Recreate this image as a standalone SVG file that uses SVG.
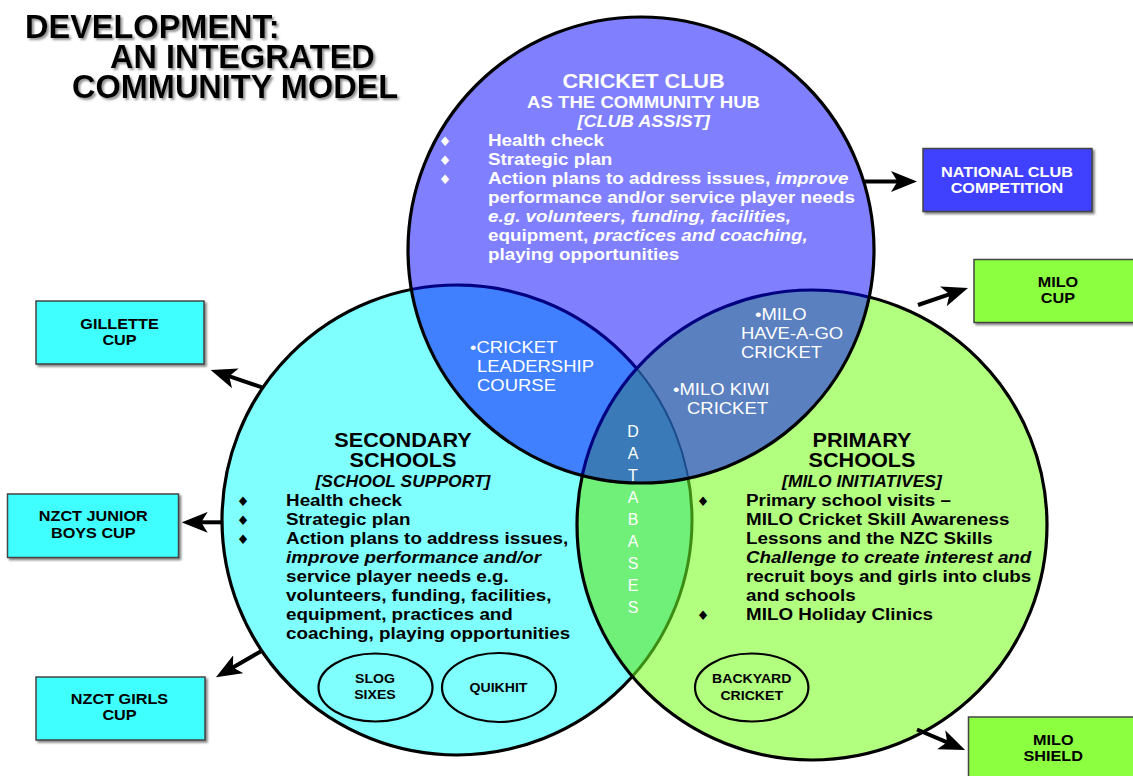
<svg xmlns="http://www.w3.org/2000/svg" width="1133" height="776" viewBox="0 0 1133 776">
<style>
.t{font-family:"Liberation Sans",Arial,sans-serif}
.w{fill:#fff}
.k{fill:#000}
.b{font-weight:bold}
.i{font-style:italic}
.bul{font-family:"DejaVu Sans",sans-serif;font-size:13px;text-anchor:middle}
.box{stroke:#444;stroke-width:1.5}
.ell{fill:none;stroke:#000;stroke-width:2.2}
.arr{stroke:#000;stroke-width:4;fill:none;marker-end:url(#ah)}
</style>
<defs>
<filter id="tsh" x="-5%" y="-20%" width="115%" height="150%"><feDropShadow dx="2" dy="2" stdDeviation="1" flood-color="#777" flood-opacity="0.8"/></filter>
<filter id="bsh" x="-5%" y="-10%" width="115%" height="130%"><feDropShadow dx="2" dy="2" stdDeviation="0.8" flood-color="#666" flood-opacity="0.8"/></filter>
<marker id="ah" markerUnits="userSpaceOnUse" markerWidth="26" markerHeight="20.8" viewBox="0 0 20 16" refX="10" refY="8" orient="auto"><path d="M0,0 L20,8 L0,16 L5,8 Z" fill="#000"/></marker>
<clipPath id="cT"><circle cx="641" cy="250" r="233"/></clipPath>
<clipPath id="cL"><circle cx="457" cy="520" r="235"/></clipPath>
<clipPath id="cR"><circle cx="812" cy="525" r="235"/></clipPath>
<mask id="mNotTR" maskUnits="userSpaceOnUse" x="0" y="0" width="1133" height="776"><rect width="1133" height="776" fill="#fff"/><circle cx="641" cy="250" r="233" fill="#000"/><circle cx="812" cy="525" r="235" fill="#000"/></mask>
<mask id="mTnR" maskUnits="userSpaceOnUse" x="0" y="0" width="1133" height="776"><rect width="1133" height="776" fill="#000"/><circle cx="641" cy="250" r="233" fill="#fff"/><circle cx="812" cy="525" r="235" fill="#000"/></mask>
<mask id="mTR" maskUnits="userSpaceOnUse" x="0" y="0" width="1133" height="776"><rect width="1133" height="776" fill="#000"/><circle cx="641" cy="250" r="233" fill="#fff" clip-path="url(#cR)"/></mask>
<mask id="mRnT" maskUnits="userSpaceOnUse" x="0" y="0" width="1133" height="776"><rect width="1133" height="776" fill="#000"/><circle cx="812" cy="525" r="235" fill="#fff"/><circle cx="641" cy="250" r="233" fill="#000"/></mask>
<mask id="mNotT" maskUnits="userSpaceOnUse" x="0" y="0" width="1133" height="776"><rect width="1133" height="776" fill="#fff"/><circle cx="641" cy="250" r="233" fill="#000"/></mask>
</defs>
<rect width="1133" height="776" fill="#fff"/>

<g id="title" class="t b" font-size="32.5" filter="url(#tsh)">
<text x="25" y="38">DEVELOPMENT:</text>
<text x="110" y="68">AN INTEGRATED</text>
<text x="72" y="98">COMMUNITY MODEL</text>
</g>

<g id="venn">
<circle cx="641" cy="250" r="233" fill="#8080FF"/>
<circle cx="457" cy="520" r="235" fill="#80FFFF"/>
<circle cx="812" cy="525" r="235" fill="#B2FF80"/>
<g clip-path="url(#cT)"><circle cx="457" cy="520" r="235" fill="#4080FF"/></g>
<g clip-path="url(#cT)"><circle cx="812" cy="525" r="235" fill="#5A80C0"/></g>
<g clip-path="url(#cL)"><circle cx="812" cy="525" r="235" fill="#70F078"/></g>
<g clip-path="url(#cT)"><g clip-path="url(#cL)"><circle cx="812" cy="525" r="235" fill="#3A7AB8"/></g></g>
<circle cx="457" cy="520" r="235" fill="none" stroke="#000" stroke-width="3.2" mask="url(#mNotTR)"/>
<circle cx="457" cy="520" r="235" fill="none" stroke="#000080" stroke-width="3.2" mask="url(#mTnR)"/>
<circle cx="457" cy="520" r="235" fill="none" stroke="#1D4B8A" stroke-width="2" mask="url(#mTR)"/>
<circle cx="457" cy="520" r="235" fill="none" stroke="#3C8C14" stroke-width="3" mask="url(#mRnT)"/>
<circle cx="812" cy="525" r="235" fill="none" stroke="#000" stroke-width="3.2" mask="url(#mNotT)"/>
<g clip-path="url(#cT)"><circle cx="812" cy="525" r="235" fill="none" stroke="#000080" stroke-width="3.2"/></g>
<circle cx="641" cy="250" r="233" fill="none" stroke="#000" stroke-width="3.2"/>
</g>

<g id="connectors">
<line class="arr" x1="863" y1="181.5" x2="904" y2="181.5"/>
<line class="arr" x1="918" y1="305" x2="955.7" y2="292.2"/>
<line class="arr" x1="262" y1="387.3" x2="223" y2="374.2"/>
<line class="arr" x1="221" y1="522.3" x2="194.7" y2="522.3"/>
<line class="arr" x1="261" y1="651.2" x2="227.2" y2="670.8"/>
<line class="arr" x1="917" y1="729.5" x2="953.1" y2="744.9"/>
</g>

<g id="club-hub" class="t w" transform="scale(1.12 1)">
<text x="574.6" y="88" text-anchor="middle" class="b" font-size="19.3">CRICKET CLUB</text>
<text x="574.6" y="108" text-anchor="middle" class="b" font-size="16.6">AS THE COMMUNITY HUB</text>
<text x="574.6" y="127" text-anchor="middle" font-size="16.2" class="b i">[CLUB ASSIST]</text>
<text class="bul" x="397.3" y="146">♦</text>
<text class="bul" x="397.3" y="165">♦</text>
<text class="bul" x="397.3" y="184">♦</text>
<g class="b" font-size="16.8">
<text x="435.7" y="146">Health check</text>
<text x="435.7" y="165">Strategic plan</text>
<text x="435.7" y="184">Action plans to address issues, <tspan class="i">improve</tspan></text>
<text x="435.7" y="203">performance and/or service player needs</text>
<text x="435.7" y="222" class="i">e.g. volunteers, funding, facilities,</text>
<text x="435.7" y="241">equipment, <tspan class="i">practices and coaching,</tspan></text>
<text x="435.7" y="260">playing opportunities</text>
</g>
</g>

<g id="secondary-schools" class="t k" transform="scale(1.12 1)">
<text x="359.8" y="447" text-anchor="middle" class="b" font-size="19.3">SECONDARY</text>
<text x="359.8" y="467" text-anchor="middle" class="b" font-size="19.3">SCHOOLS</text>
<text x="359.8" y="487" text-anchor="middle" class="b i" font-size="15.6">[SCHOOL SUPPORT]</text>
<text class="bul" x="217" y="506">♦</text>
<text class="bul" x="217" y="525">♦</text>
<text class="bul" x="217" y="544">♦</text>
<g class="b" font-size="16.8">
<text x="255.4" y="506">Health check</text>
<text x="255.4" y="525">Strategic plan</text>
<text x="255.4" y="544">Action plans to address issues,</text>
<text x="255.4" y="563" class="i">improve performance and/or</text>
<text x="255.4" y="582">service player needs e.g.</text>
<text x="255.4" y="601">volunteers, funding, facilities,</text>
<text x="255.4" y="620">equipment, practices and</text>
<text x="255.4" y="639">coaching, playing opportunities</text>
</g>
</g>

<g id="primary-schools" class="t k" transform="scale(1.12 1)">
<text x="769.6" y="447" text-anchor="middle" class="b" font-size="19.3">PRIMARY</text>
<text x="769.6" y="467" text-anchor="middle" class="b" font-size="19.3">SCHOOLS</text>
<text x="769.6" y="487" text-anchor="middle" class="b i" font-size="15.6">[MILO INITIATIVES]</text>
<text class="bul" x="627.7" y="506">♦</text>
<text class="bul" x="627.7" y="620">♦</text>
<g class="b" font-size="16.8">
<text x="666.1" y="506">Primary school visits –</text>
<text x="666.1" y="525">MILO Cricket Skill Awareness</text>
<text x="666.1" y="544">Lessons and the NZC Skills</text>
<text x="666.1" y="563" class="i">Challenge to create interest and</text>
<text x="666.1" y="582">recruit boys and girls into clubs</text>
<text x="666.1" y="601">and schools</text>
<text x="666.1" y="620">MILO Holiday Clinics</text>
</g>
</g>

<g id="cricket-leadership" class="t w" font-size="16.5" transform="scale(1.12 1)">
<text x="419.6" y="353">•CRICKET</text>
<text x="425.9" y="372">LEADERSHIP</text>
<text x="425.9" y="391">COURSE</text>
</g>
<g id="milo-have-a-go" class="t w" font-size="16.5" transform="scale(1.12 1)">
<text x="674.1" y="320">•MILO</text>
<text x="661.6" y="339">HAVE-A-GO</text>
<text x="661.6" y="358">CRICKET</text>
</g>
<g id="milo-kiwi" class="t w" font-size="16.5" transform="scale(1.12 1)">
<text x="600.9" y="395">•MILO KIWI</text>
<text x="613.4" y="414">CRICKET</text>
</g>
<g id="databases" class="t w" font-size="16" text-anchor="middle">
<text x="633" y="437">D</text>
<text x="633" y="459">A</text>
<text x="633" y="481">T</text>
<text x="633" y="503">A</text>
<text x="633" y="525">B</text>
<text x="633" y="547">A</text>
<text x="633" y="569">S</text>
<text x="633" y="591">E</text>
<text x="633" y="613">S</text>
</g>

<g id="slog-sixes">
<ellipse class="ell" cx="375.5" cy="687.5" rx="57" ry="34"/>
<g class="t b k" font-size="12.6" text-anchor="middle" transform="scale(1.12 1)">
<text x="334.8" y="683">SLOG</text>
<text x="334.8" y="699.5">SIXES</text>
</g>
</g>
<g id="quikhit">
<ellipse class="ell" cx="499" cy="687.5" rx="57" ry="34.5"/>
<g class="t b k" font-size="12.6" text-anchor="middle" transform="scale(1.12 1)">
<text x="445.1" y="692">QUIKHIT</text>
</g>
</g>
<g id="backyard-cricket">
<ellipse class="ell" cx="751.7" cy="687.5" rx="56.7" ry="34"/>
<g class="t b k" font-size="12.6" text-anchor="middle" transform="scale(1.12 1)">
<text x="671.2" y="683.5">BACKYARD</text>
<text x="671.2" y="700">CRICKET</text>
</g>
</g>

<g id="national-club-competition">
<rect class="box" x="923" y="148.5" width="169" height="63" fill="#4040FF" filter="url(#bsh)"/>
<g class="t b w" font-size="14.5" text-anchor="middle" transform="scale(1.12 1)">
<text x="899.1" y="177">NATIONAL CLUB</text>
<text x="899.1" y="193.5">COMPETITION</text>
</g>
</g>
<g id="milo-cup">
<rect class="box" x="974" y="259.5" width="175" height="63" fill="#8CFF40" filter="url(#bsh)"/>
<g class="t b k" font-size="14.5" text-anchor="middle" transform="scale(1.12 1)">
<text x="944.6" y="287">MILO</text>
<text x="944.6" y="303.5">CUP</text>
</g>
</g>
<g id="gillette-cup">
<rect class="box" x="36" y="301" width="168" height="63" fill="#40FFFF" filter="url(#bsh)"/>
<g class="t b k" font-size="14.5" text-anchor="middle" transform="scale(1.12 1)">
<text x="106.7" y="329">GILLETTE</text>
<text x="106.7" y="345.5">CUP</text>
</g>
</g>
<g id="nzct-junior-boys-cup">
<rect class="box" x="7.5" y="494" width="171" height="63.5" fill="#40FFFF" filter="url(#bsh)"/>
<g class="t b k" font-size="14.5" text-anchor="middle" transform="scale(1.12 1)">
<text x="83.3" y="521.5">NZCT JUNIOR</text>
<text x="83.3" y="538">BOYS CUP</text>
</g>
</g>
<g id="nzct-girls-cup">
<rect class="box" x="36" y="677" width="169" height="63" fill="#40FFFF" filter="url(#bsh)"/>
<g class="t b k" font-size="14.5" text-anchor="middle" transform="scale(1.12 1)">
<text x="106.7" y="704">NZCT GIRLS</text>
<text x="106.7" y="720.5">CUP</text>
</g>
</g>
<g id="milo-shield">
<rect class="box" x="968.5" y="717" width="180" height="70" fill="#8CFF40" filter="url(#bsh)"/>
<g class="t b k" font-size="14.5" text-anchor="middle" transform="scale(1.12 1)">
<text x="940.4" y="745">MILO</text>
<text x="940.4" y="761.5">SHIELD</text>
</g>
</g>
</svg>
